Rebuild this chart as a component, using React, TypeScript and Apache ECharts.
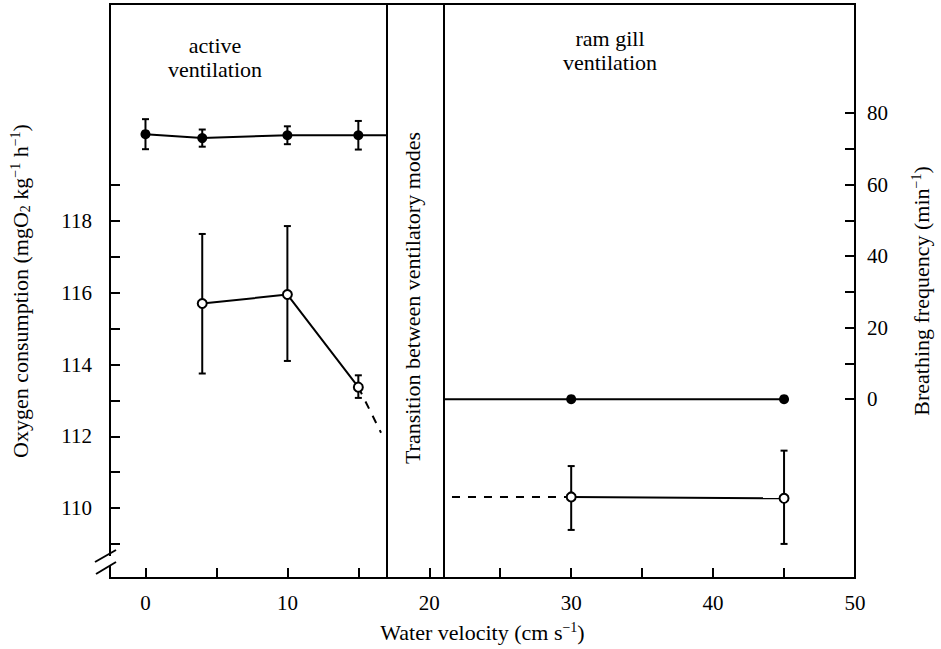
import React, { useEffect, useRef } from "react";
import * as echarts from "echarts";

// ---- data ----
const velocityTicks = [0, 5, 10, 15, 20, 25, 30, 35, 40, 45, 50];
const velocityLabels = [0, 10, 20, 30, 40, 50];
const o2Ticks = [109, 110, 111, 112, 113, 114, 115, 116, 117, 118, 119];
const o2Labels = [110, 112, 114, 116, 118];
const freqTicks = [0, 10, 20, 30, 40, 50, 60, 70, 80];
const freqLabels = [0, 20, 40, 60, 80];

// breathing frequency (filled circles, right axis)
const activeFreqVelocity = [0, 4, 10, 15];
const activeFreq = [74.1, 73.0, 73.8, 73.8];
const activeFreqErr = [4.2, 2.4, 2.5, 4.0];
const activeFreqLineEnd = [17, 73.8];
const ramFreqVelocity = [30, 45];
const ramFreq = [0, 0];
const ramFreqLineStart = [21, 0];

// oxygen consumption (open circles, left axis)
const activeO2Velocity = [4, 10, 15];
const activeO2 = [115.7, 115.95, 113.37];
const activeO2Upper = [117.64, 117.86, 113.7];
const activeO2Lower = [113.75, 114.1, 113.07];
const activeO2DashEnd = [16.6, 112.1];
const ramO2Velocity = [30, 45];
const ramO2 = [110.31, 110.27];
const ramO2Upper = [111.17, 111.6];
const ramO2Lower = [109.39, 109.0];
const ramO2DashStart = [21.6, 110.31];

// transition zone borders
const transitionBounds = [17, 21];

const FONT = "Liberation Serif";
const BLACK = "#000";

function errorRender(params: any, api: any) {
  const x = api.value(0);
  const top = api.coord([x, api.value(1)]);
  const bot = api.coord([x, api.value(2)]);
  const cap = 3.5;
  const style = { stroke: BLACK, lineWidth: 2 };
  return {
    type: "group",
    children: [
      { type: "line", shape: { x1: top[0], y1: top[1], x2: bot[0], y2: bot[1] }, style },
      { type: "line", shape: { x1: top[0] - cap, y1: top[1], x2: top[0] + cap, y2: top[1] }, style },
      { type: "line", shape: { x1: bot[0] - cap, y1: bot[1], x2: bot[0] + cap, y2: bot[1] }, style },
    ],
  };
}

const richStyles = {
  sup: { fontFamily: FONT, fontSize: 14, color: BLACK, verticalAlign: "top", lineHeight: 24 },
  sub: { fontFamily: FONT, fontSize: 14, color: BLACK, verticalAlign: "bottom", lineHeight: 24 },
};

const nameStyle = { color: BLACK, fontFamily: FONT, fontSize: 22, lineHeight: 24, rich: richStyles };
const labelStyle = { color: BLACK, fontFamily: FONT, fontSize: 21 };

export default function App() {
  const ref = useRef<HTMLDivElement>(null);

  useEffect(() => {
    document.body.style.margin = "0";
    if (!ref.current) return;
    const chart = echarts.init(ref.current, null, { renderer: "svg" });

    const zip = (xs: number[], ys: number[]) => xs.map((x, i) => [x, ys[i]]);

    const option: any = {
      animation: false,
      backgroundColor: "#fff",
      grid: {
        left: 106,
        right: 86,
        top: 4,
        bottom: 71,
        show: true,
        borderColor: BLACK,
        borderWidth: 2,
        backgroundColor: "transparent",
      },
      xAxis: {
        type: "value",
        min: -2.5,
        max: 50,
        splitLine: { show: false },
        axisLine: { show: true, onZero: false, lineStyle: { color: BLACK, width: 2 } },
        axisTick: {
          show: true,
          inside: true,
          length: 10,
          customValues: velocityTicks,
          lineStyle: { color: BLACK, width: 2 },
        },
        axisLabel: { customValues: velocityLabels, margin: 14, ...labelStyle },
        name: "Water velocity (cm s{sup|−1})",
        nameLocation: "middle",
        nameGap: 42,
        nameTextStyle: nameStyle,
      },
      yAxis: [
        {
          type: "value",
          position: "left",
          min: 108.05,
          max: 124.05,
          splitLine: { show: false },
          axisLine: { show: true, onZero: false, lineStyle: { color: BLACK, width: 2 } },
          axisTick: {
            show: true,
            inside: true,
            length: 10,
            customValues: o2Ticks,
            lineStyle: { color: BLACK, width: 2 },
          },
          axisLabel: { customValues: o2Labels, margin: 18, ...labelStyle },
          name: "Oxygen consumption (mgO{sub|2} kg{sup|−1} h{sup|−1})",
          nameLocation: "middle",
          nameRotate: 90,
          nameGap: 78,
          nameTextStyle: nameStyle,
        },
        {
          type: "value",
          position: "right",
          min: -50,
          max: 110.5,
          splitLine: { show: false },
          axisLine: { show: true, onZero: false, lineStyle: { color: BLACK, width: 2 } },
          axisTick: {
            show: true,
            inside: true,
            length: 10,
            customValues: freqTicks,
            lineStyle: { color: BLACK, width: 2 },
          },
          axisLabel: { customValues: freqLabels, margin: 12, ...labelStyle },
          name: "Breathing frequency (min{sup|−1})",
          nameLocation: "middle",
          nameRotate: 90,
          nameGap: 54,
          nameTextStyle: nameStyle,
        },
      ],
      series: [
        // transition borders
        {
          type: "line",
          data: [],
          silent: true,
          markLine: {
            silent: true,
            symbol: "none",
            label: { show: false },
            lineStyle: { color: BLACK, width: 2, type: "solid" },
            data: transitionBounds.map((v) => ({ xAxis: v })),
          },
        },
        // error bars
        {
          type: "custom",
          yAxisIndex: 1,
          z: 2,
          renderItem: errorRender,
          encode: { x: 0, y: [1, 2] },
          data: activeFreqVelocity.map((x, i) => [x, activeFreq[i] + activeFreqErr[i], activeFreq[i] - activeFreqErr[i]]),
        },
        {
          type: "custom",
          yAxisIndex: 0,
          z: 2,
          renderItem: errorRender,
          encode: { x: 0, y: [1, 2] },
          data: activeO2Velocity
            .map((x, i) => [x, activeO2Upper[i], activeO2Lower[i]])
            .concat(ramO2Velocity.map((x, i) => [x, ramO2Upper[i], ramO2Lower[i]])),
        },
        // connecting lines
        {
          type: "line",
          yAxisIndex: 1,
          z: 3,
          symbol: "none",
          lineStyle: { color: BLACK, width: 2 },
          data: zip(activeFreqVelocity, activeFreq).concat([activeFreqLineEnd]),
        },
        {
          type: "line",
          yAxisIndex: 1,
          z: 3,
          symbol: "none",
          lineStyle: { color: BLACK, width: 2 },
          data: [ramFreqLineStart].concat(zip(ramFreqVelocity, ramFreq)),
        },
        {
          type: "line",
          yAxisIndex: 0,
          z: 3,
          symbol: "none",
          lineStyle: { color: BLACK, width: 2 },
          data: zip(activeO2Velocity, activeO2),
        },
        {
          type: "line",
          yAxisIndex: 0,
          z: 3,
          symbol: "none",
          lineStyle: { color: BLACK, width: 2, type: [8, 8] },
          data: [[activeO2Velocity[2], activeO2[2]], activeO2DashEnd],
        },
        {
          type: "line",
          yAxisIndex: 0,
          z: 3,
          symbol: "none",
          lineStyle: { color: BLACK, width: 2 },
          data: zip(ramO2Velocity, ramO2),
        },
        {
          type: "line",
          yAxisIndex: 0,
          z: 3,
          symbol: "none",
          lineStyle: { color: BLACK, width: 2, type: [8, 8] },
          data: [ramO2DashStart, [ramO2Velocity[0], ramO2[0]]],
        },
        // markers
        {
          type: "scatter",
          yAxisIndex: 1,
          z: 4,
          symbol: "circle",
          symbolSize: 10,
          itemStyle: { color: BLACK, opacity: 1 },
          data: zip(activeFreqVelocity, activeFreq).concat(zip(ramFreqVelocity, ramFreq)),
        },
        {
          type: "scatter",
          yAxisIndex: 0,
          z: 4,
          symbol: "circle",
          symbolSize: 9,
          itemStyle: { color: "#fff", borderColor: BLACK, borderWidth: 2, opacity: 1 },
          data: zip(activeO2Velocity, activeO2).concat(zip(ramO2Velocity, ramO2)),
        },
      ],
      graphic: [
        {
          type: "text",
          style: {
            text: "active\nventilation",
            x: 215,
            y: 33,
            align: "center",
            fontFamily: FONT,
            fontSize: 22,
            lineHeight: 24,
            fill: BLACK,
          },
        },
        {
          type: "text",
          style: {
            text: "ram gill\nventilation",
            x: 610,
            y: 26,
            align: "center",
            fontFamily: FONT,
            fontSize: 22,
            lineHeight: 24,
            fill: BLACK,
          },
        },
        {
          type: "text",
          x: 412,
          y: 298,
          rotation: Math.PI / 2,
          style: {
            text: "Transition between ventilatory modes",
            align: "center",
            verticalAlign: "middle",
            fontFamily: FONT,
            fontSize: 22,
            fill: BLACK,
          },
        },
        // axis break marks
        {
          type: "rect",
          shape: { x: 101, y: 556, width: 10, height: 10 },
          style: { fill: "#fff" },
          z: 100,
        },
        {
          type: "line",
          shape: { x1: 95, y1: 562, x2: 116, y2: 550 },
          style: { stroke: BLACK, lineWidth: 2 },
          z: 101,
        },
        {
          type: "line",
          shape: { x1: 96, y1: 574, x2: 116, y2: 562 },
          style: { stroke: BLACK, lineWidth: 2 },
          z: 101,
        },
      ],
    };

    chart.setOption(option);
    return () => chart.dispose();
  }, []);

  return <div ref={ref} style={{ width: 941, height: 649 }} />;
}
